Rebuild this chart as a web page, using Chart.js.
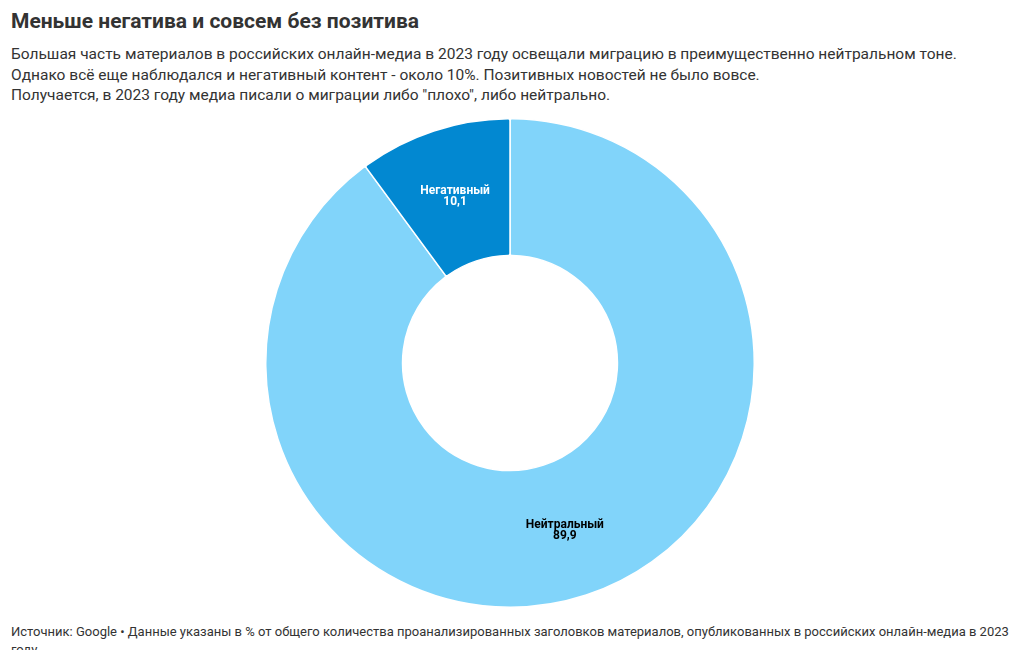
<!DOCTYPE html>
<html lang="ru">
<head>
<meta charset="utf-8">
<script src="https://cdn.jsdelivr.net/npm/chart.js@4.4.1/dist/chart.umd.min.js"></script>
<style>
  html, body { margin: 0; padding: 0; background: #fff; }
  body { width: 1020px; height: 650px; overflow: hidden; position: relative;
         font-family: Roboto, "Noto Sans", sans-serif; color: #333; }
  h1 { position: absolute; left: 11px; top: 9px; margin: 0; font-size: 21px;
       font-weight: 700; color: #333; letter-spacing: 0; }
  .sub { position: absolute; left: 11px; top: 44px; margin: 0; font-size: 15.5px;
         line-height: 20.5px; color: #333; }
  .chart-box { position: absolute; left: 0; top: 116px; width: 1020px; height: 494px; }
  .foot { position: absolute; left: 11px; top: 623px; width: 1000px; margin: 0;
          font-family: "Liberation Sans Narrow", Roboto, sans-serif; font-size: 13px;
          line-height: 18px; color: #333; }
</style>
</head>
<body>
<h1>Меньше негатива и совсем без позитива</h1>
<p class="sub">Большая часть материалов в российских онлайн-медиа в 2023 году освещали миграцию в преимущественно нейтральном тоне.<br>
Однако всё еще наблюдался и негативный контент - около 10%. Позитивных новостей не было вовсе.<br>
Получается, в 2023 году медиа писали о миграции либо "плохо", либо нейтрально.</p>
<div class="chart-box"><canvas id="donut"></canvas></div>
<p class="foot">Источник: Google • Данные указаны в % от общего количества проанализированных заголовков материалов, опубликованных в российских онлайн-медиа в 2023 году.</p>
<script>
/* data */
const categories = ['Нейтральный', 'Негативный'];
const shares     = [89.9, 10.1];
const colours    = ['#81d4fa', '#0288d1'];
const labelInk   = ['#000', '#fff'];

const fmt = v => String(v).replace('.', ',');

/* draw category + value in the middle of each slice */
const sliceLabels = {
  id: 'sliceLabels',
  afterDatasetsDraw(chart) {
    const { ctx } = chart;
    const meta = chart.getDatasetMeta(0);
    ctx.save();
    ctx.textAlign = 'center';
    ctx.textBaseline = 'middle';
    ctx.font = '700 12px Roboto, "Noto Sans", sans-serif';
    meta.data.forEach((arc, i) => {
      const p = arc.tooltipPosition();
      ctx.fillStyle = labelInk[i];
      ctx.fillText(categories[i], p.x, p.y - 5);
      ctx.fillText(fmt(shares[i]), p.x, p.y + 6);
    });
    ctx.restore();
  }
};

new Chart(document.getElementById('donut'), {
  type: 'doughnut',
  data: {
    labels: categories,
    datasets: [{
      data: shares,
      backgroundColor: colours,
      borderColor: '#fff',
      borderWidth: 1.5,
      borderRadius: 2
    }]
  },
  options: {
    responsive: true,
    maintainAspectRatio: false,
    animation: false,
    cutout: '44%',
    layout: { padding: 2 },
    plugins: {
      legend: { display: false },
      tooltip: { enabled: false }
    }
  },
  plugins: [sliceLabels]
});
</script>
</body>
</html>
